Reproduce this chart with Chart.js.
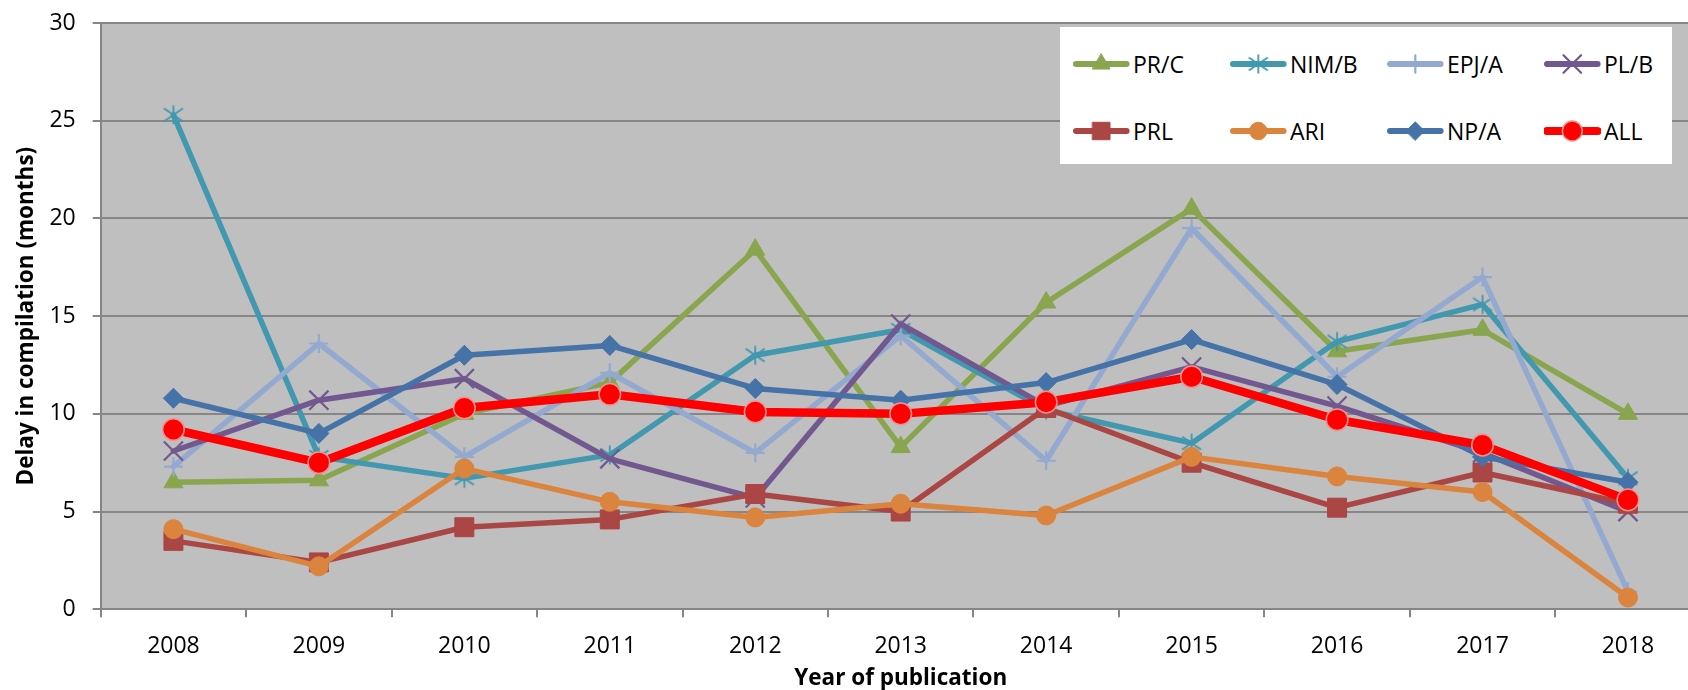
<!DOCTYPE html>
<html>
<head>
<meta charset="utf-8">
<script src="https://cdn.jsdelivr.net/npm/chart.js@4/dist/chart.umd.min.js"></script>
<style>
  html, body { margin: 0; padding: 0; overflow: hidden; background: #fff; width: 1688px; height: 690px; }
  #wrap { position: relative; width: 1704px; height: 690px; }
  #c { display: block; }
  #legend { position: absolute; left: 1060px; top: 27px; width: 612px; height: 137px; background: #fff;
            font-family: 'Open Sans', sans-serif; font-size: 23px; color: #000; }
  #legend .item { position: absolute; display: flex; align-items: center; height: 30px; }
  #legend .item canvas { display: block; }
  #legend .item span { margin-left: 3px; white-space: nowrap; line-height: 30px; }
</style>
</head>
<body>
<div id="wrap">
  <canvas id="c" width="1704" height="690"></canvas>
  <div id="legend"></div>
</div>
<script>
// ---- data ----
const categories = ['2008', '2009', '2010', '2011', '2012', '2013', '2014', '2015', '2016', '2017', '2018'];
const seriesNames = ['PR/C', 'NIM/B', 'EPJ/A', 'PL/B', 'PRL', 'ARI', 'NP/A', 'ALL'];
const prC  = [6.5, 6.6, 10.0, 11.6, 18.4, 8.3, 15.7, 20.5, 13.2, 14.3, 10.0];
const nimB = [25.3, 7.8, 6.7, 7.9, 13.0, 14.3, 10.2, 8.5, 13.7, 15.6, 6.7];
const epjA = [7.3, 13.6, 7.8, 12.1, 8.0, 14.0, 7.6, 19.5, 11.9, 17.0, 0.9];
const plB  = [8.1, 10.7, 11.8, 7.7, 5.7, 14.6, 10.4, 12.4, 10.4, 8.0, 5.0];
const prl  = [3.5, 2.4, 4.2, 4.6, 5.9, 5.0, 10.3, 7.5, 5.2, 7.0, 5.4];
const ari  = [4.1, 2.2, 7.2, 5.5, 4.7, 5.4, 4.8, 7.8, 6.8, 6.0, 0.6];
const npA  = [10.8, 9.0, 13.0, 13.5, 11.3, 10.7, 11.6, 13.8, 11.5, 7.8, 6.5];
const all  = [9.2, 7.5, 10.3, 11.0, 10.1, 10.0, 10.6, 11.9, 9.7, 8.4, 5.6];
const yTickValues = [0, 5, 10, 15, 20, 25, 30];
const xTitle = 'Year of publication';
const yTitle = 'Delay in compilation (months)';

// ---- styles ----
const FONT = "'Open Sans', sans-serif";
const AXIS_GRAY = '#868686';

function makeAsterisk(color) {
  const c = document.createElement('canvas');
  c.width = 24; c.height = 22;
  const g = c.getContext('2d');
  g.strokeStyle = color; g.lineWidth = 1.8;
  g.beginPath();
  g.moveTo(12, 1.5); g.lineTo(12, 20.5);
  g.moveTo(2.5, 4.5); g.lineTo(21.5, 17.5);
  g.moveTo(2.5, 17.5); g.lineTo(21.5, 4.5);
  g.stroke();
  return c;
}

const styles = [
  { color: '#89A54E', point: 'triangle', r: 11,   bw: 1,   lw: 5.5, order: 7 },
  { color: '#4198AF', point: makeAsterisk('#4198AF'), r: 11, bw: 1, lw: 5.5, order: 6 },
  { color: '#93A9CF', point: 'cross',    r: 9.5,  bw: 2.2, lw: 5.5, order: 5 },
  { color: '#71588F', point: 'crossRot', r: 13.5, bw: 2.2, lw: 5.5, order: 4 },
  { color: '#AA4643', point: 'rect',     r: 13.4, bw: 1,   lw: 5.5, order: 3 },
  { color: '#DB843D', point: 'circle',   r: 9.5,  bw: 1,   lw: 5.5, order: 2 },
  { color: '#4572A7', point: 'rectRot',  r: 10,   bw: 1,   lw: 5.5, order: 1 },
  { color: '#FF0000', point: 'circle',   r: 10.8, bw: 1.5, lw: 8.5, order: 0, border: '#E89494' }
];
const seriesValues = [prC, nimB, epjA, plB, prl, ari, npA, all];

const datasets = seriesNames.map((name, i) => {
  const s = styles[i];
  return {
    label: name,
    data: seriesValues[i],
    borderColor: s.color,
    backgroundColor: s.color,
    borderWidth: s.lw,
    borderJoinStyle: 'round',
    borderCapStyle: 'round',
    pointStyle: s.point,
    pointRadius: s.r,
    pointHoverRadius: s.r,
    pointBorderWidth: s.bw,
    pointBackgroundColor: s.color,
    pointBorderColor: s.border || s.color,
    tension: 0,
    order: s.order,
    fill: false
  };
});

const plotBg = {
  id: 'plotBg',
  beforeDraw(chart) {
    const { ctx, chartArea: a } = chart;
    ctx.save();
    ctx.fillStyle = '#BFBFBF';
    ctx.fillRect(a.left, a.top, a.right - a.left, a.bottom - a.top);
    ctx.restore();
  }
};

const xTickFont = { family: FONT, size: 23 };
const yTickFont = { family: FONT, size: 23, lineHeight: '8px' };
const xTitleFont = { family: FONT, size: 22.5, weight: 'bold', lineHeight: '22px' };
const yTitleFont = { family: FONT, size: 22.5, weight: 'bold', lineHeight: '26px' };

const chart = new Chart(document.getElementById('c'), {
  type: 'line',
  data: { labels: categories, datasets },
  options: {
    responsive: false,
    animation: false,
    events: [],
    layout: { autoPadding: false, padding: { left: 0, right: 3.3, top: 23, bottom: 0 } },
    plugins: { legend: { display: false }, tooltip: { enabled: false } },
    scales: {
      x: {
        offset: true,
        grid: { offset: true, drawOnChartArea: false, drawTicks: true, tickLength: 8, color: AXIS_GRAY, lineWidth: 2 },
        border: { display: true, color: AXIS_GRAY, width: 2 },
        ticks: { color: '#000', font: xTickFont, padding: 15, maxRotation: 0, autoSkip: false },
        title: { display: true, text: xTitle, color: '#000', font: xTitleFont, padding: { top: 0, bottom: 0 } },
        afterFit(s) { s.height = 80.7; }
      },
      y: {
        min: 0, max: 30,
        afterBuildTicks(s) { s.ticks = yTickValues.map(v => ({ value: v })); },
        grid: { color: AXIS_GRAY, lineWidth: 2, tickLength: 8 },
        border: { display: true, color: AXIS_GRAY, width: 2 },
        ticks: { color: '#000', font: yTickFont, padding: 17 },
        title: { display: true, text: yTitle, color: '#000', font: yTitleFont, padding: { top: 14, bottom: 0 } },
        afterFit(s) { s.width = 100.7; }
      }
    }
  },
  plugins: [plotBg]
});

// ---- HTML legend built from the chart's datasets ----
(function buildLegend() {
  const el = document.getElementById('legend');
  const colX = [13, 170, 327, 484];
  const rowY = [36.7, 104];
  const drawPoint = Chart.helpers && Chart.helpers.drawPoint;
  chart.data.datasets.forEach((ds, i) => {
    const item = document.createElement('div');
    item.className = 'item';
    item.style.left = colX[i % 4] + 'px';
    item.style.top = (rowY[Math.floor(i / 4)] - 15) + 'px';
    const cv = document.createElement('canvas');
    cv.width = 57; cv.height = 30;
    const g = cv.getContext('2d');
    g.strokeStyle = ds.borderColor;
    g.lineWidth = i === 7 ? 8 : 6;
    g.lineCap = 'round';
    g.beginPath(); g.moveTo(3, 15); g.lineTo(53.6, 15); g.stroke();
    g.fillStyle = ds.pointBackgroundColor;
    g.strokeStyle = ds.pointBorderColor;
    g.lineWidth = ds.pointBorderWidth;
    if (drawPoint) {
      drawPoint(g, { pointStyle: ds.pointStyle, radius: ds.pointRadius * 0.92, borderWidth: ds.pointBorderWidth, rotation: 0 }, 28.3, 15);
    }
    const sp = document.createElement('span');
    sp.textContent = ds.label;
    item.appendChild(cv);
    item.appendChild(sp);
    el.appendChild(item);
  });
})();
</script>
</body>
</html>
